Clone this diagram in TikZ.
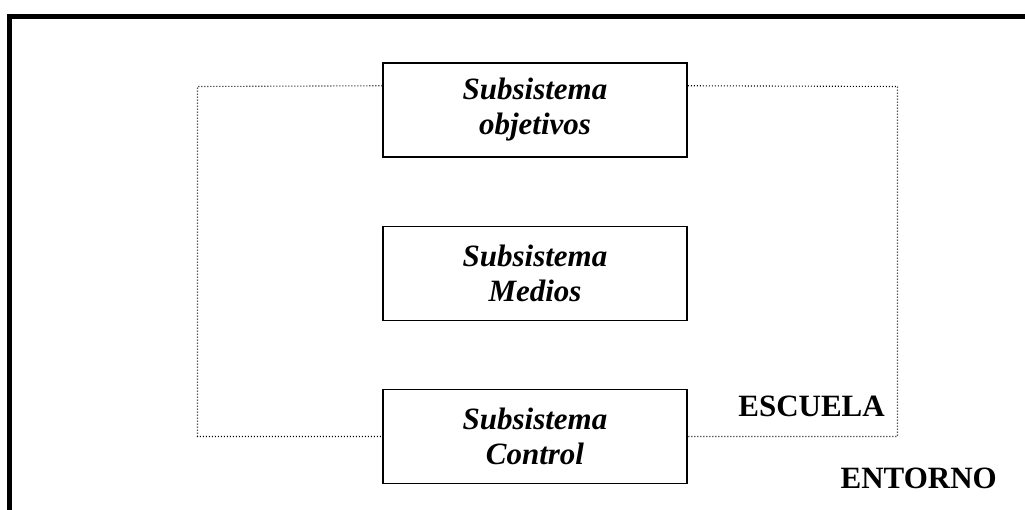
\documentclass[tikz,border=0pt]{standalone}
\usepackage{fontspec}
\setmainfont{Liberation Serif}
\usetikzlibrary{calc}
\begin{document}
\begin{tikzpicture}[x=1pt,y=-1pt,
  sbox/.style={draw,line width=1.5pt,minimum width=304pt,minimum height=94pt,
    inner sep=0pt,align=center,font=\fontsize{31}{35}\selectfont\bfseries\itshape},
  frameline/.style={line width=5pt,line join=miter},
  link/.style={line width=1.1pt,dash pattern=on 1pt off 2pt},
  tag/.style={inner sep=0pt,font=\fontsize{31}{35}\selectfont\bfseries}]
\useasboundingbox (0,0) rectangle (1025,510);
% environment frame
\draw[frameline] (1030,16.5) -- (9.5,16.5) -- (9.5,515);
% subsystems
\node[sbox] (obj) at (535,110) {Subsistema\\objetivos};
\node[sbox] (med) at (535,273.5) {Subsistema\\Medios};
\node[sbox] (ctl) at (535,436.5) {Subsistema\\Control};
% school boundary
\coordinate (ow) at ($(obj.north west)+(0,23.5)$);
\coordinate (oe) at ($(obj.north east)+(0,23.5)$);
\draw[link] (ow) -- (197.5,86.5) -- (197.5,436.5) -- (ctl.west);
\draw[link] (oe) -- (897.5,86.5) -- (897.5,436.5) -- (ctl.east);
% labels
\node[tag,anchor=base east] (esc) at (885,416) {ESCUELA};
\node[tag,anchor=base east] (ent) at (997,488) {ENTORNO};
\end{tikzpicture}
\end{document}
